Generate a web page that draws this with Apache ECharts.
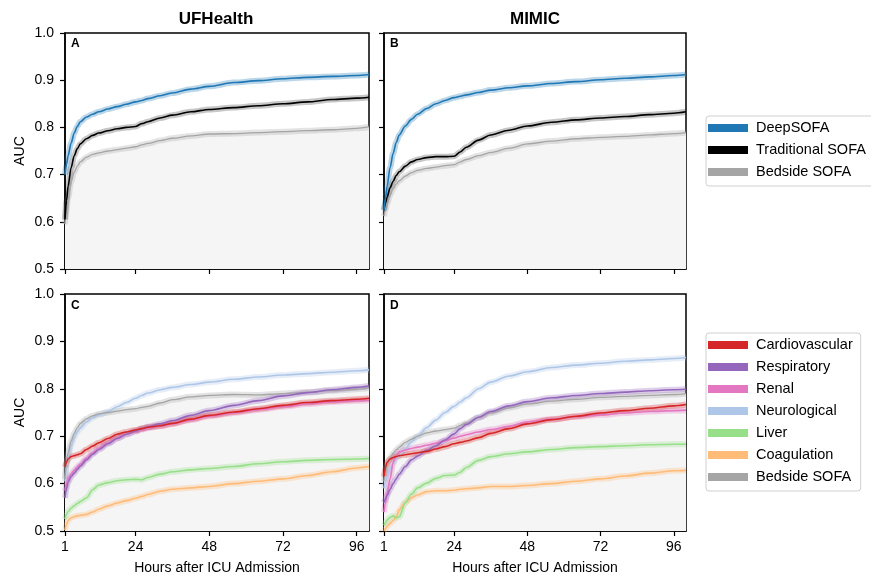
<!DOCTYPE html>
<html>
<head>
<meta charset="utf-8">
<script src="https://cdn.jsdelivr.net/npm/echarts@6/dist/echarts.min.js"></script>
<style>
html, body { margin: 0; padding: 0; background: #fff; }
#chart { width: 871px; height: 577px; }
</style>
</head>
<body>
<div id="chart"></div>
<script>
// hours after ICU admission (shared by every curve)
const hours = [1, 1.5, 2, 3, 4, 5, 6, 8, 10, 12, 15, 18, 21, 24, 26, 28, 32, 36, 42, 48, 56, 64, 72, 80, 88, 96, 100];
const xTicks = [1, 24, 48, 72, 96];

// A - UFHealth, overall scores
const ufDeep    = [0.700, 0.722, 0.740, 0.767, 0.788, 0.802, 0.812, 0.822, 0.828, 0.833, 0.839, 0.844, 0.849, 0.854, 0.857, 0.861, 0.867, 0.873, 0.881, 0.887, 0.895, 0.899, 0.903, 0.906, 0.908, 0.910, 0.912];
const ufTrad    = [0.605, 0.645, 0.675, 0.715, 0.740, 0.755, 0.765, 0.776, 0.783, 0.788, 0.793, 0.797, 0.800, 0.802, 0.808, 0.812, 0.820, 0.826, 0.833, 0.838, 0.842, 0.846, 0.850, 0.854, 0.859, 0.862, 0.864];
const ufBedside = [0.595, 0.625, 0.650, 0.685, 0.705, 0.718, 0.727, 0.737, 0.743, 0.746, 0.750, 0.753, 0.756, 0.759, 0.763, 0.766, 0.772, 0.777, 0.782, 0.786, 0.787, 0.789, 0.791, 0.793, 0.795, 0.798, 0.801];

// B - MIMIC, overall scores
const mmDeep    = [0.625, 0.650, 0.675, 0.715, 0.745, 0.768, 0.784, 0.803, 0.817, 0.828, 0.840, 0.850, 0.857, 0.863, 0.866, 0.869, 0.874, 0.879, 0.884, 0.888, 0.893, 0.897, 0.901, 0.904, 0.907, 0.910, 0.912];
const mmTrad    = [0.625, 0.640, 0.652, 0.672, 0.686, 0.698, 0.706, 0.718, 0.727, 0.732, 0.736, 0.738, 0.738, 0.739, 0.748, 0.758, 0.773, 0.784, 0.794, 0.803, 0.811, 0.816, 0.820, 0.823, 0.827, 0.830, 0.833];
const mmBedside = [0.612, 0.625, 0.638, 0.656, 0.670, 0.680, 0.687, 0.697, 0.704, 0.709, 0.713, 0.716, 0.719, 0.721, 0.727, 0.732, 0.740, 0.747, 0.756, 0.765, 0.771, 0.776, 0.779, 0.781, 0.784, 0.787, 0.789];

// C - UFHealth, organ systems
const ufCardio  = [0.635, 0.645, 0.652, 0.657, 0.659, 0.661, 0.663, 0.672, 0.679, 0.686, 0.695, 0.704, 0.709, 0.713, 0.716, 0.719, 0.722, 0.727, 0.736, 0.744, 0.751, 0.758, 0.765, 0.771, 0.775, 0.778, 0.780];
const ufResp    = [0.570, 0.590, 0.603, 0.615, 0.622, 0.630, 0.637, 0.650, 0.662, 0.672, 0.684, 0.695, 0.704, 0.711, 0.716, 0.720, 0.726, 0.733, 0.744, 0.754, 0.765, 0.775, 0.785, 0.792, 0.798, 0.803, 0.806];
const ufRenal   = [0.585, 0.600, 0.610, 0.620, 0.628, 0.635, 0.641, 0.654, 0.665, 0.675, 0.686, 0.696, 0.704, 0.710, 0.714, 0.717, 0.721, 0.726, 0.734, 0.742, 0.749, 0.756, 0.762, 0.768, 0.772, 0.775, 0.776];
const ufNeuro   = [0.605, 0.635, 0.655, 0.680, 0.697, 0.709, 0.717, 0.730, 0.739, 0.745, 0.752, 0.762, 0.771, 0.780, 0.786, 0.791, 0.798, 0.803, 0.809, 0.814, 0.820, 0.825, 0.829, 0.832, 0.835, 0.838, 0.840];
const ufLiver   = [0.525, 0.535, 0.541, 0.548, 0.553, 0.558, 0.562, 0.570, 0.587, 0.597, 0.602, 0.606, 0.608, 0.609, 0.608, 0.613, 0.620, 0.625, 0.629, 0.632, 0.636, 0.642, 0.646, 0.649, 0.651, 0.652, 0.653];
const ufCoag    = [0.502, 0.515, 0.522, 0.528, 0.530, 0.532, 0.533, 0.535, 0.540, 0.546, 0.553, 0.559, 0.564, 0.569, 0.573, 0.577, 0.584, 0.588, 0.591, 0.594, 0.600, 0.605, 0.610, 0.617, 0.625, 0.633, 0.636];
const ufBedside2 = [0.610, 0.645, 0.665, 0.690, 0.706, 0.718, 0.727, 0.737, 0.743, 0.747, 0.750, 0.753, 0.756, 0.758, 0.761, 0.763, 0.770, 0.777, 0.783, 0.786, 0.788, 0.787, 0.790, 0.793, 0.796, 0.799, 0.802];

// D - MIMIC, organ systems
const mmCardio  = [0.615, 0.635, 0.645, 0.652, 0.655, 0.657, 0.659, 0.661, 0.663, 0.665, 0.668, 0.673, 0.678, 0.684, 0.687, 0.690, 0.697, 0.706, 0.716, 0.726, 0.735, 0.742, 0.749, 0.754, 0.759, 0.764, 0.767];
const mmResp    = [0.560, 0.568, 0.575, 0.588, 0.600, 0.610, 0.620, 0.636, 0.650, 0.658, 0.670, 0.680, 0.692, 0.705, 0.716, 0.725, 0.740, 0.752, 0.764, 0.773, 0.781, 0.786, 0.790, 0.793, 0.796, 0.798, 0.799];
const mmRenal   = [0.540, 0.560, 0.580, 0.610, 0.645, 0.660, 0.667, 0.671, 0.674, 0.677, 0.681, 0.685, 0.690, 0.696, 0.700, 0.703, 0.709, 0.714, 0.721, 0.730, 0.736, 0.741, 0.745, 0.749, 0.752, 0.754, 0.755];
const mmNeuro   = [0.590, 0.605, 0.615, 0.630, 0.642, 0.652, 0.660, 0.674, 0.688, 0.700, 0.718, 0.734, 0.750, 0.763, 0.772, 0.781, 0.800, 0.814, 0.827, 0.836, 0.845, 0.850, 0.854, 0.858, 0.861, 0.864, 0.866];
const mmLiver   = [0.512, 0.518, 0.523, 0.529, 0.532, 0.528, 0.530, 0.560, 0.578, 0.591, 0.601, 0.611, 0.617, 0.618, 0.624, 0.634, 0.649, 0.657, 0.663, 0.667, 0.672, 0.676, 0.678, 0.680, 0.682, 0.683, 0.683];
const mmCoag    = [0.500, 0.505, 0.510, 0.516, 0.522, 0.530, 0.545, 0.560, 0.570, 0.576, 0.583, 0.585, 0.585, 0.586, 0.588, 0.589, 0.591, 0.594, 0.594, 0.596, 0.600, 0.605, 0.610, 0.616, 0.622, 0.627, 0.628];
const mmBedside2 = [0.605, 0.625, 0.640, 0.655, 0.664, 0.671, 0.677, 0.687, 0.694, 0.700, 0.707, 0.711, 0.714, 0.717, 0.723, 0.728, 0.739, 0.749, 0.760, 0.768, 0.774, 0.778, 0.782, 0.784, 0.786, 0.788, 0.790];

const topNames = ["DeepSOFA", "Traditional SOFA", "Bedside SOFA"];
const bottomNames = ["Cardiovascular", "Respiratory", "Renal", "Neurological", "Liver", "Coagulation", "Bedside SOFA"];

const colors = {
  "DeepSOFA": "#1f77b4",
  "Traditional SOFA": "#000000",
  "Bedside SOFA": "#a5a5a5",
  "Cardiovascular": "#d62728",
  "Respiratory": "#9467bd",
  "Renal": "#e377c2",
  "Neurological": "#aec7e8",
  "Liver": "#98df8a",
  "Coagulation": "#ffbb78",
};

const FONT = "'Liberation Sans', Arial, Helvetica, sans-serif";

const grids = [
  { left: 65, top: 33, width: 304, height: 236 },
  { left: 384, top: 33, width: 302, height: 236 },
  { left: 65, top: 294, width: 304, height: 237 },
  { left: 384, top: 294, width: 302, height: 237 },
];

function pairs(values) {
  return hours.map((h, i) => [h, values[i]]);
}

const series = [];

function addFill(values, idx) {
  series.push({
    name: "fill" + idx,
    type: "line",
    xAxisIndex: idx,
    yAxisIndex: idx,
    data: pairs(values),
    symbol: "none",
    smooth: 0.3,
    smoothMonotone: "x",
    silent: true,
    lineStyle: { width: 0 },
    areaStyle: { color: "#f5f5f5", opacity: 1, origin: "start" },
    z: 1,
  });
}

function addCurve(name, values, idx) {
  const c = colors[name];
  // confidence band, drawn as a wide pale stroke
  series.push({
    name: name + " band",
    type: "line",
    xAxisIndex: idx,
    yAxisIndex: idx,
    data: pairs(values),
    symbol: "none",
    smooth: 0.3,
    smoothMonotone: "x",
    silent: true,
    lineStyle: { width: 6, color: c, opacity: name === "Traditional SOFA" ? 0.22 : 0.3 },
    z: 2,
  });
  series.push({
    name: name,
    type: "line",
    xAxisIndex: idx,
    yAxisIndex: idx,
    data: pairs(values),
    symbol: "none",
    smooth: 0.3,
    smoothMonotone: "x",
    color: c,
    itemStyle: { color: c },
    lineStyle: { width: name === "Bedside SOFA" ? 1.3 : 1.6, color: c },
    z: 3,
  });
}

addFill(ufBedside, 0);
addCurve("Bedside SOFA", ufBedside, 0);
addCurve("Traditional SOFA", ufTrad, 0);
addCurve("DeepSOFA", ufDeep, 0);

addFill(mmBedside, 1);
addCurve("Bedside SOFA", mmBedside, 1);
addCurve("Traditional SOFA", mmTrad, 1);
addCurve("DeepSOFA", mmDeep, 1);

addFill(ufBedside2, 2);
addCurve("Coagulation", ufCoag, 2);
addCurve("Liver", ufLiver, 2);
addCurve("Neurological", ufNeuro, 2);
addCurve("Bedside SOFA", ufBedside2, 2);
addCurve("Renal", ufRenal, 2);
addCurve("Respiratory", ufResp, 2);
addCurve("Cardiovascular", ufCardio, 2);

addFill(mmBedside2, 3);
addCurve("Coagulation", mmCoag, 3);
addCurve("Liver", mmLiver, 3);
addCurve("Neurological", mmNeuro, 3);
addCurve("Bedside SOFA", mmBedside2, 3);
addCurve("Renal", mmRenal, 3);
addCurve("Respiratory", mmResp, 3);
addCurve("Cardiovascular", mmCardio, 3);

const xAxes = grids.map((g, i) => ({
  type: "value",
  gridIndex: i,
  min: 1,
  max: 100,
  name: i >= 2 ? "Hours after ICU Admission" : "",
  nameLocation: "middle",
  nameGap: 30,
  nameTextStyle: { fontSize: 14, fontFamily: FONT, color: "#000" },
  splitLine: { show: false },
  axisLine: { show: true, onZero: false, lineStyle: { color: "#000", width: 1.5 } },
  axisTick: { show: true, length: 5, customValues: xTicks, lineStyle: { color: "#000", width: 1.2 } },
  axisLabel: { show: i >= 2, customValues: xTicks, fontSize: 14, fontFamily: FONT, color: "#000", margin: 9 },
}));

const yAxes = grids.map((g, i) => ({
  type: "value",
  gridIndex: i,
  min: 0.5,
  max: 1.0,
  interval: 0.1,
  name: i % 2 === 0 ? "AUC" : "",
  nameLocation: "middle",
  nameGap: 38,
  nameTextStyle: { fontSize: 14, fontFamily: FONT, color: "#000" },
  splitLine: { show: false },
  axisLine: { show: true, lineStyle: { color: "#000", width: 1.5 } },
  axisTick: { show: true, length: 5, lineStyle: { color: "#000", width: 1.2 } },
  axisLabel: {
    show: i % 2 === 0,
    fontSize: 14,
    fontFamily: FONT,
    color: "#000",
    margin: 11,
    formatter: (v) => v.toFixed(1),
  },
}));

const legendBase = {
  orient: "vertical",
  left: 706,
  icon: "rect",
  itemWidth: 40,
  itemHeight: 8,
  itemGap: 6,
  padding: [4, 8, 6, 2],
  borderColor: "#d0d0d0",
  borderWidth: 1,
  borderRadius: 3,
  backgroundColor: "#fff",
  selectedMode: false,
  textStyle: { fontSize: 14.5, fontFamily: FONT, color: "#000", lineHeight: 16, padding: [0, 0, 0, 3] },
};

const chart = echarts.init(document.getElementById("chart"), null, { renderer: "canvas" });
chart.setOption({
  animation: false,
  backgroundColor: "#fff",
  grid: grids.map((g) => Object.assign({ show: true, borderColor: "#000", borderWidth: 1.5, backgroundColor: "transparent" }, g)),
  xAxis: xAxes,
  yAxis: yAxes,
  legend: [
    Object.assign({}, legendBase, { top: 116, data: topNames }),
    Object.assign({}, legendBase, { top: 333, data: bottomNames }),
  ],
  graphic: [
    { type: "text", x: 216, y: 19, style: { text: "UFHealth", font: "bold 17px " + FONT, fill: "#000", align: "center", verticalAlign: "middle" } },
    { type: "text", x: 535, y: 19, style: { text: "MIMIC", font: "bold 17px " + FONT, fill: "#000", align: "center", verticalAlign: "middle" } },
    { type: "text", x: 71, y: 44, z: 10, style: { text: "A", font: "bold 12px " + FONT, fill: "#000", verticalAlign: "middle" } },
    { type: "text", x: 390, y: 44, z: 10, style: { text: "B", font: "bold 12px " + FONT, fill: "#000", verticalAlign: "middle" } },
    { type: "text", x: 71, y: 306, z: 10, style: { text: "C", font: "bold 12px " + FONT, fill: "#000", verticalAlign: "middle" } },
    { type: "text", x: 390, y: 306, z: 10, style: { text: "D", font: "bold 12px " + FONT, fill: "#000", verticalAlign: "middle" } },
  ],
  series: series,
});
</script>
</body>
</html>
